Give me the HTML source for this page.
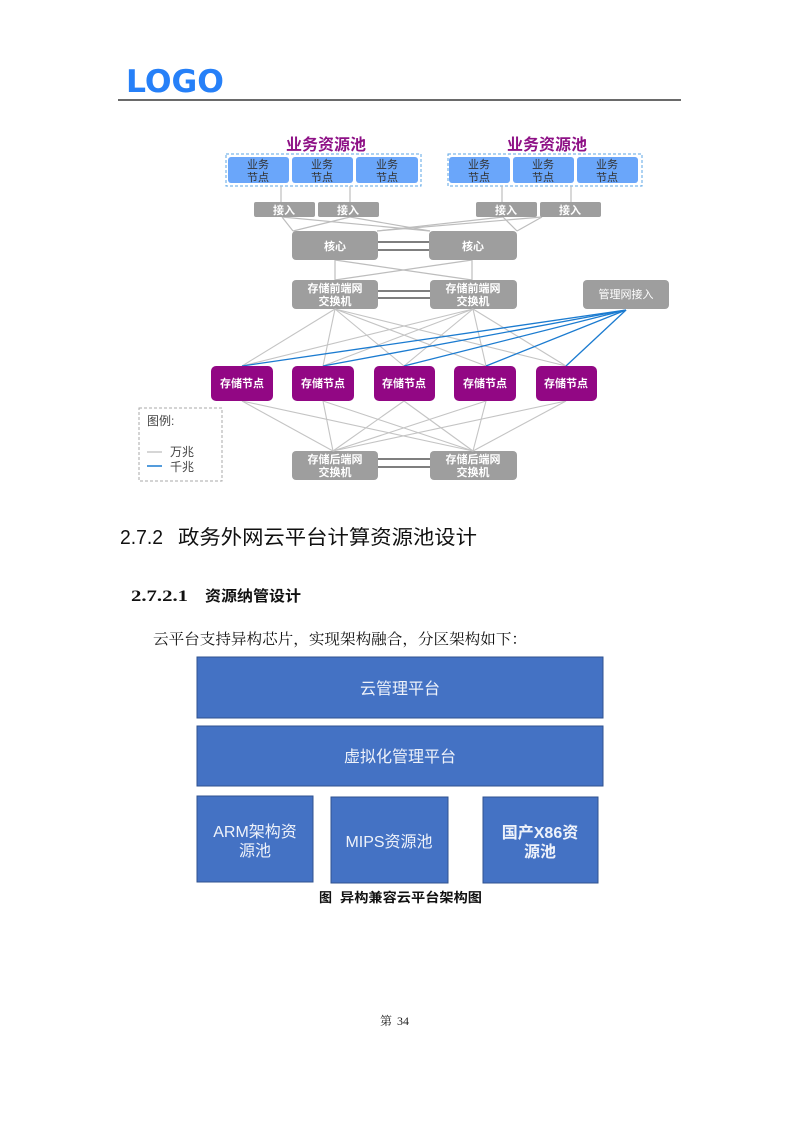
<!DOCTYPE html>
<html><head><meta charset="utf-8">
<style>
html,body{margin:0;padding:0;background:#fff;}
body{width:800px;height:1132px;position:relative;overflow:hidden;font-family:"Liberation Sans","Noto Sans CJK SC",sans-serif;}
</style></head><body>
<svg width="800" height="1132" style="position:absolute;left:0;top:0" font-family="Liberation Sans, Noto Sans CJK SC, sans-serif">
<!-- LOGO -->
<text x="126" y="92" font-size="31" font-weight="bold" fill="#2680F8" font-family="DejaVu Sans, sans-serif" textLength="98" lengthAdjust="spacingAndGlyphs">LOGO</text>
<line x1="118" y1="100" x2="681" y2="100" stroke="#111" stroke-width="1.3"/>

<!-- titles -->
<text x="326" y="150" font-size="16" font-weight="bold" fill="#8E1186" text-anchor="middle">业务资源池</text>
<text x="547" y="150" font-size="16" font-weight="bold" fill="#8E1186" text-anchor="middle">业务资源池</text>
<rect x="226" y="154" width="195" height="32" fill="none" stroke="#5BA6E6" stroke-dasharray="3,2"/>
<rect x="448" y="154" width="194" height="32" fill="none" stroke="#5BA6E6" stroke-dasharray="3,2"/>
<g fill="#6AA6FA">
<rect x="228" y="157" width="61" height="26" rx="3"/>
<rect x="292" y="157" width="61" height="26" rx="3"/>
<rect x="356" y="157" width="62" height="26" rx="3"/>
<rect x="449" y="157" width="61" height="26" rx="3"/>
<rect x="513" y="157" width="61" height="26" rx="3"/>
<rect x="577" y="157" width="61" height="26" rx="3"/>
</g>
<g font-size="11" fill="#333" text-anchor="middle">
<text x="258" y="168">业务</text><text x="258" y="181">节点</text>
<text x="322" y="168">业务</text><text x="322" y="181">节点</text>
<text x="387" y="168">业务</text><text x="387" y="181">节点</text>
<text x="479" y="168">业务</text><text x="479" y="181">节点</text>
<text x="543" y="168">业务</text><text x="543" y="181">节点</text>
<text x="607" y="168">业务</text><text x="607" y="181">节点</text>
</g>
<g stroke="#BDBDBD" stroke-width="1.2">
<line x1="281" y1="186" x2="281" y2="202"/><line x1="350" y1="186" x2="350" y2="202"/>
<line x1="502" y1="186" x2="502" y2="202"/><line x1="571" y1="186" x2="571" y2="202"/>
<line x1="282" y1="217" x2="293" y2="231"/><line x1="282" y1="217" x2="430" y2="231"/>
<line x1="350" y1="217" x2="293" y2="231"/><line x1="350" y1="217" x2="430" y2="231"/>
<line x1="503" y1="217" x2="377" y2="231"/><line x1="503" y1="217" x2="517" y2="231"/>
<line x1="542" y1="217" x2="377" y2="231"/><line x1="542" y1="217" x2="517" y2="231"/>
<line x1="335" y1="260" x2="335" y2="280"/><line x1="472" y1="260" x2="472" y2="280"/>
<line x1="335" y1="260" x2="472" y2="280"/><line x1="472" y1="260" x2="335" y2="280"/>
</g>
<g fill="#9E9E9E">
<rect x="254" y="202" width="61" height="15" rx="2"/>
<rect x="318" y="202" width="61" height="15" rx="2"/>
<rect x="476" y="202" width="61" height="15" rx="2"/>
<rect x="540" y="202" width="61" height="15" rx="2"/>
<rect x="292" y="231" width="86" height="29" rx="4"/>
<rect x="429" y="231" width="88" height="29" rx="4"/>
<rect x="292" y="280" width="86" height="29" rx="4"/>
<rect x="430" y="280" width="87" height="29" rx="4"/>
<rect x="583" y="280" width="86" height="29" rx="4"/>
<rect x="292" y="451" width="86" height="29" rx="4"/>
<rect x="430" y="451" width="87" height="29" rx="4"/>
</g>
<g stroke="#333" stroke-width="1.3">
<line x1="378" y1="242" x2="429" y2="242"/><line x1="378" y1="250" x2="429" y2="250"/>
<line x1="378" y1="291" x2="430" y2="291"/><line x1="378" y1="298" x2="430" y2="298"/>
<line x1="378" y1="459" x2="430" y2="459"/><line x1="378" y1="467" x2="430" y2="467"/>
</g>
<g font-size="11" fill="#fff" font-weight="bold" text-anchor="middle">
<text x="284" y="214">接入</text><text x="348" y="214">接入</text>
<text x="506" y="214">接入</text><text x="570" y="214">接入</text>
<text x="335" y="250">核心</text><text x="473" y="250">核心</text>
<text x="335" y="292">存储前端网</text><text x="335" y="305">交换机</text>
<text x="473" y="292">存储前端网</text><text x="473" y="305">交换机</text>
<text x="626" y="298" font-weight="normal">管理网接入</text>
<text x="335" y="463">存储后端网</text><text x="335" y="476">交换机</text>
<text x="473" y="463">存储后端网</text><text x="473" y="476">交换机</text>
</g>
<!-- storage links -->
<g stroke="#C4C4C4" stroke-width="1.1">
<line x1="335" y1="309" x2="242" y2="366"/><line x1="335" y1="309" x2="323" y2="366"/><line x1="335" y1="309" x2="404" y2="366"/><line x1="335" y1="309" x2="486" y2="366"/><line x1="335" y1="309" x2="566" y2="366"/>
<line x1="473" y1="309" x2="242" y2="366"/><line x1="473" y1="309" x2="323" y2="366"/><line x1="473" y1="309" x2="404" y2="366"/><line x1="473" y1="309" x2="486" y2="366"/><line x1="473" y1="309" x2="566" y2="366"/>
<line x1="333" y1="451" x2="242" y2="401"/><line x1="333" y1="451" x2="323" y2="401"/><line x1="333" y1="451" x2="404" y2="401"/><line x1="333" y1="451" x2="486" y2="401"/><line x1="333" y1="451" x2="566" y2="401"/>
<line x1="473" y1="451" x2="242" y2="401"/><line x1="473" y1="451" x2="323" y2="401"/><line x1="473" y1="451" x2="404" y2="401"/><line x1="473" y1="451" x2="486" y2="401"/><line x1="473" y1="451" x2="566" y2="401"/>
</g>
<g stroke="#1B7BD0" stroke-width="1.3">
<line x1="626" y1="310" x2="242" y2="366"/><line x1="626" y1="310" x2="323" y2="366"/><line x1="626" y1="310" x2="404" y2="366"/><line x1="626" y1="310" x2="486" y2="366"/><line x1="626" y1="310" x2="566" y2="366"/>
</g>
<g fill="#920784">
<rect x="211" y="366" width="62" height="35" rx="5"/>
<rect x="292" y="366" width="62" height="35" rx="5"/>
<rect x="374" y="366" width="61" height="35" rx="5"/>
<rect x="454" y="366" width="62" height="35" rx="5"/>
<rect x="536" y="366" width="61" height="35" rx="5"/>
</g>
<g font-size="11" fill="#fff" font-weight="bold" text-anchor="middle">
<text x="242" y="387">存储节点</text><text x="323" y="387">存储节点</text><text x="404" y="387">存储节点</text><text x="485" y="387">存储节点</text><text x="566" y="387">存储节点</text>
</g>
<!-- legend -->
<rect x="139" y="408" width="83" height="73" fill="none" stroke="#AAA" stroke-dasharray="3,2"/>
<text x="147" y="425" font-size="12" fill="#444">图例:</text>
<line x1="147" y1="452" x2="162" y2="452" stroke="#BBB" stroke-width="1.2"/>
<line x1="147" y1="466" x2="162" y2="466" stroke="#1B7BD0" stroke-width="1.5"/>
<text x="170" y="456" font-size="12" fill="#444">万兆</text>
<text x="170" y="471" font-size="12" fill="#444">千兆</text>

<!-- headings -->
<text x="120" y="544" font-size="20" fill="#111" textLength="43" lengthAdjust="spacingAndGlyphs">2.7.2</text>
<text x="178" y="544" font-size="20" fill="#111" textLength="299" lengthAdjust="spacingAndGlyphs">政务外网云平台计算资源池设计</text>
<text x="131" y="601" font-size="16" font-weight="bold" fill="#111" font-family="Liberation Serif, serif" textLength="57" lengthAdjust="spacingAndGlyphs">2.7.2.1</text>
<text x="205" y="601" font-size="15" font-weight="bold" fill="#111" textLength="96" lengthAdjust="spacingAndGlyphs">资源纳管设计</text>
<text x="153" y="644" font-size="15" fill="#111" font-family="Liberation Serif, Noto Serif CJK SC, serif" textLength="374" lengthAdjust="spacingAndGlyphs">云平台支持异构芯片，实现架构融合，分区架构如下：</text>

<!-- arch -->
<g fill="#4472C4" stroke="#2F528F" stroke-width="1">
<rect x="197" y="657" width="406" height="61"/>
<rect x="197" y="726" width="406" height="60"/>
<rect x="197" y="796" width="116" height="86"/>
<rect x="331" y="797" width="117" height="86"/>
<rect x="483" y="797" width="115" height="86"/>
</g>
<g fill="#EEF2FA" font-size="16" text-anchor="middle">
<text x="400" y="694">云管理平台</text>
<text x="400" y="762">虚拟化管理平台</text>
<text x="255" y="837">ARM架构资</text><text x="255" y="856">源池</text>
<text x="389" y="847">MIPS资源池</text>
<text x="540" y="838" font-weight="bold">国产X86资</text><text x="540" y="857" font-weight="bold">源池</text>
</g>
<text x="319" y="902" font-size="13" font-weight="bold" fill="#111">图</text>
<text x="340" y="902" font-size="13" font-weight="bold" fill="#111" textLength="142" lengthAdjust="spacingAndGlyphs">异构兼容云平台架构图</text>
<text x="380" y="1025" font-size="12" fill="#222" font-family="Liberation Serif, Noto Serif CJK SC, serif">第</text>
<text x="397" y="1025" font-size="12" fill="#222" font-family="Liberation Serif, serif">34</text>
</svg>
</body></html>
